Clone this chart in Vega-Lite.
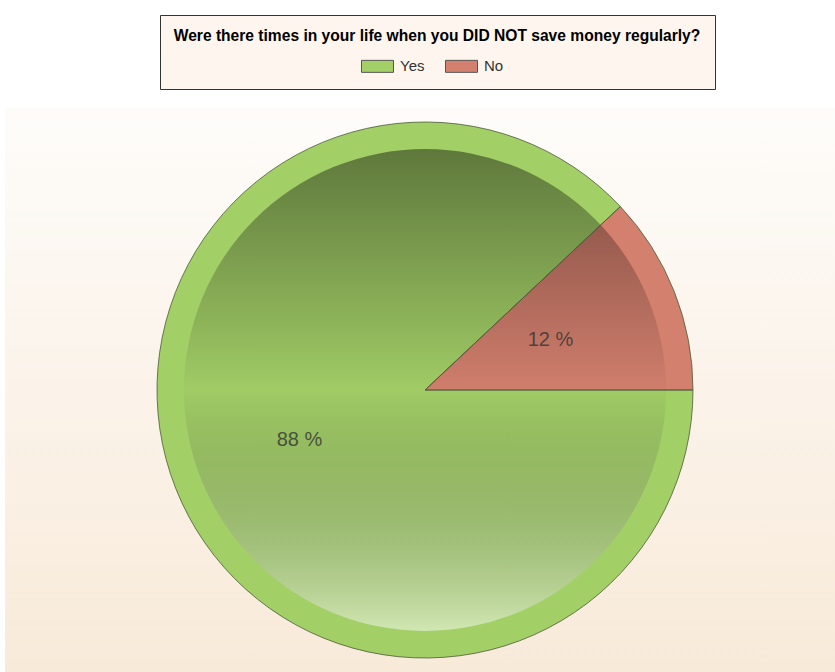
{
  "$schema": "https://vega.github.io/schema/vega-lite/v6.json",
  "autosize": {"type": "fit", "contains": "padding"},
  "width": 835,
  "height": 672,
  "padding": {"left": 5, "right": -10, "top": 108, "bottom": 0},
  "background": "#FFFFFF",
  "config": {
    "view": {"stroke": null},
    "font": "Liberation Sans"
  },
  "datasets": {
    "answers": [
      {"answer": "Yes", "pct": 88, "label": "88 %"},
      {"answer": "No", "pct": 12, "label": "12 %"}
    ],
    "whole": [
      {"answer": "all", "pct": 100}
    ]
  },
  "data": {"name": "answers"},
  "layer": [
    {
      "data": {"name": "whole"},
      "mark": {
        "type": "rect",
        "fill": {"gradient": "linear", "x1": 0, "y1": 0, "x2": 0, "y2": 1, "stops": [{"offset": 0, "color": "#FEFCFA"}, {"offset": 1, "color": "#F8EAD9"}]}
      },
      "encoding": {}
    },
    {
      "mark": {"type": "arc", "radius": 268},
      "encoding": {
        "theta": {"field": "pct", "type": "quantitative", "stack": "zero", "scale": {"range": [1.5708, 7.854]}},
        "order": {"field": "pct", "sort": "descending"},
        "color": {
          "field": "answer", "type": "nominal",
          "scale": {"domain": ["Yes", "No"], "range": ["#A3CF67", "#D4806E"]},
          "legend": {
            "orient": "none",
            "legendX": 155,
            "legendY": -93,
            "direction": "horizontal",
            "title": "Were there times in your life when you DID NOT save money regularly?",
            "titleFont": "Liberation Sans",
            "titleFontSize": 15.6,
            "titleFontWeight": "bold",
            "titleColor": "#000000",
            "titleAnchor": "middle",
            "titlePadding": 14,
            "titleLimit": 700,
            "padding": 14,
            "fillColor": "#FEF6EE",
            "strokeColor": "#333333",
            "symbolType": "M-2.667,-1H2.667V1H-2.667Z",
            "symbolSize": 144,
            "symbolStrokeColor": "#555555",
            "symbolStrokeWidth": 1,
            "symbolOpacity": 1,
            "labelFont": "Liberation Sans",
            "labelFontSize": 15,
            "labelColor": "#333333",
            "labelOffset": 15,
            "columnPadding": 18
          }
        }
      }
    },
    {
      "mark": {"type": "arc", "radius": 241},
      "encoding": {
        "theta": {"field": "pct", "type": "quantitative", "stack": "zero"},
        "order": {"field": "pct", "sort": "descending"},
        "color": {"field": "answer", "type": "nominal"}
      }
    },
    {
      "data": {"name": "whole"},
      "mark": {
        "type": "arc",
        "radius": 241,
        "fill": {"gradient": "linear", "x1": 0, "y1": 0, "x2": 0, "y2": 1, "stops": [
          {"offset": 0, "color": "rgba(0,0,0,0.42)"},
          {"offset": 0.5, "color": "rgba(0,0,0,0.02)"},
          {"offset": 1, "color": "rgba(255,255,255,0.5)"}
        ]}
      },
      "encoding": {
        "theta": {"field": "pct", "type": "quantitative", "stack": "zero"}
      }
    },
    {
      "mark": {"type": "arc", "radius": 268, "fillOpacity": 0, "stroke": "#4E5A3A", "strokeWidth": 1, "strokeOpacity": 0.8},
      "encoding": {
        "theta": {"field": "pct", "type": "quantitative", "stack": "zero"},
        "order": {"field": "pct", "sort": "descending"}
      }
    },
    {
      "mark": {"type": "text", "radius": 135, "fontSize": 20, "font": "Liberation Sans", "fill": "#333333", "opacity": 0.78},
      "encoding": {
        "theta": {"field": "pct", "type": "quantitative", "stack": "zero"},
        "order": {"field": "pct", "sort": "descending"},
        "text": {"field": "label", "type": "nominal"}
      }
    }
  ]
}
